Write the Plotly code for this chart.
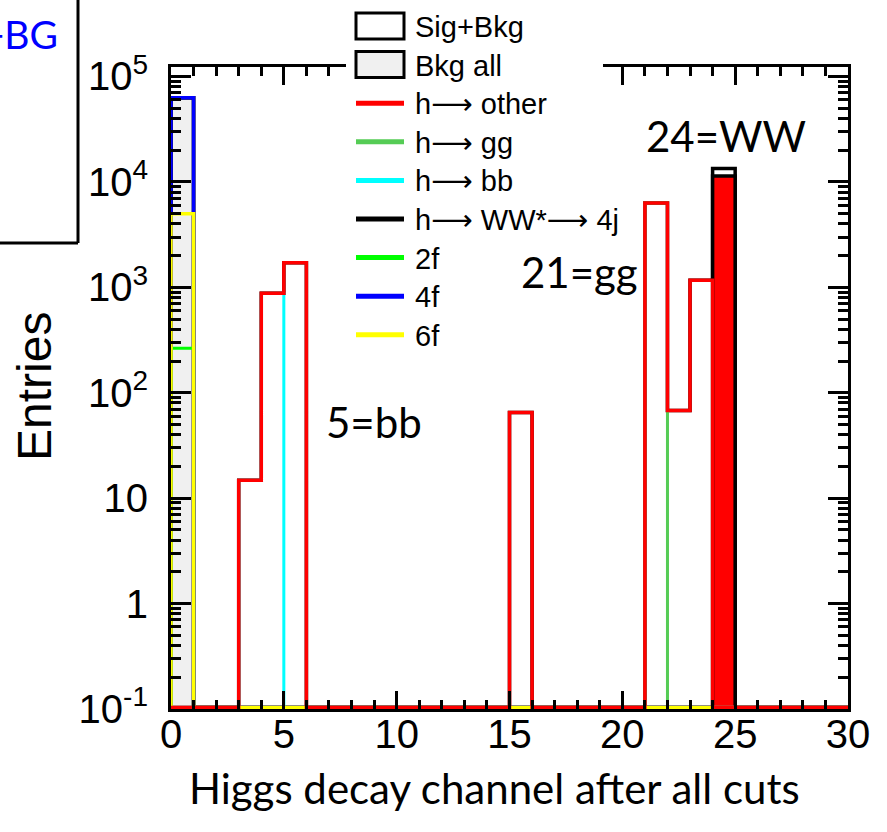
import numpy as np
import plotly.graph_objects as go

# ---------------- data ----------------
bin_edges = list(range(31))  # Higgs decay channel bins 0..30

bkg_2f = [265] + [0] * 29
bkg_6f = [4735] + [0] * 29
bkg_4f = [58000] + [0] * 29
bkg_all = [63000] + [0] * 29

#            0  1  2    3    4     5  6  7  8  9 10 11 12 13 14  15 16 17 18 19 20    21  22    23 24 25 26 27 28 29
h_other = [0, 0, 0, 14.8, 880, 1715, 0, 0, 0, 0, 0, 0, 0, 0, 0, 65, 0, 0, 0, 0, 0, 6300, 68, 1165, 0, 0, 0, 0, 0, 0]
h_gg    = [0, 0, 0, 0, 0, 0, 0, 0, 0, 0, 0, 0, 0, 0, 0, 0, 0, 0, 0, 0, 0, 6300, 0, 0, 0, 0, 0, 0, 0, 0]
h_bb    = [0, 0, 0, 14.8, 875, 0, 0, 0, 0, 0, 0, 0, 0, 0, 0, 0, 0, 0, 0, 0, 0, 0, 0, 0, 0, 0, 0, 0, 0, 0]
h_ww    = [0, 0, 0, 0, 0, 0, 0, 0, 0, 0, 0, 0, 0, 0, 0, 0, 0, 0, 0, 0, 0, 0, 0, 0, 11400, 0, 0, 0, 0, 0]
sig_bkg = [63000, 0, 0, 14.8, 880, 1715, 0, 0, 0, 0, 0, 0, 0, 0, 0, 65, 0, 0, 0, 0, 0, 6300, 68, 1165, 13400, 0, 0, 0, 0, 0]

x_ticks = [0, 5, 10, 15, 20, 25, 30]
y_tickvals = [0.1, 1, 10, 100, 1e3, 1e4, 1e5]
y_ticktext = ["10<sup>-1</sup>", "1", "10", "10<sup>2</sup>", "10<sup>3</sup>", "10<sup>4</sup>", "10<sup>5</sup>"]

ARROW = "<span style='font-family:DejaVu Sans'>\u27f6</span>"
legend_names = ["Sig+Bkg", "Bkg all", "h" + ARROW + " other", "h" + ARROW + " gg", "h" + ARROW + " bb",
                "h" + ARROW + " WW*" + ARROW + " 4j", "2f", "4f", "6f"]

# ---------------- layout constants ----------------
W, H = 887, 832
L, R, T, B = 171, 848, 67, 709
Y_RANGE = [-1.0, 5.09]
floor = 10 ** (Y_RANGE[0] + 0.014)

def px(x):
    return (x - L) / (R - L)

def py(y):
    return (B - y) / (B - T)

edges = np.array(bin_edges, dtype=float)

def step(vals):
    v = np.asarray(vals, dtype=float)
    v = np.where(v > 0, v, floor)
    xs = np.concatenate([[edges[0]], edges[:-1], [edges[-1], edges[-1]]])
    ys = np.concatenate([[floor], v, [v[-1], floor]])
    return xs, ys

stack_2f = np.array(bkg_2f, dtype=float)
stack_6f = stack_2f + np.array(bkg_6f, dtype=float)
stack_4f = stack_6f + np.array(bkg_4f, dtype=float)

fig = go.Figure()

def add_step(vals, name, color, width=3.5, fill=None, fillcolor=None):
    xs, ys = step(vals)
    fig.add_trace(go.Scatter(
        x=xs, y=ys, mode="lines", line=dict(color=color, width=width, shape="hv"),
        fill=fill, fillcolor=fillcolor, name=name, showlegend=False, hoverinfo="skip"))

add_step(bkg_all, "Bkg all", "black", 3.5, "toself", "#f0f0f0")
add_step(sig_bkg, "Sig+Bkg", "black", 3.5)
add_step(h_ww, "h->WW*->4j", "black", 3.5, "toself", "#ff0000")
add_step(stack_4f, "4f", "#0000ff", 3.5)
add_step(stack_2f, "2f", "#00ff00", 3.0)
add_step(h_gg, "h->gg", "#55cc55", 3.0)
add_step(h_bb, "h->bb", "#00ffff", 3.0)
add_step(stack_6f, "6f", "#ffff00", 3.5)
add_step(h_other, "h->other", "#ff0000", 3.5)

# ---------------- axes ----------------
tick_font = dict(family="Liberation Sans, Arial, sans-serif", size=40, color="black")
minor_y = [m * 10.0 ** d for d in range(-1, 5) for m in range(2, 10)]

fig.update_xaxes(
    range=[0, 30], tickvals=x_ticks, ticks="inside", ticklen=18, tickwidth=3,
    tickcolor="black", showline=True, linewidth=3, linecolor="black", mirror="ticks",
    showgrid=False, zeroline=False, tickfont=tick_font, ticklabelstandoff=-12,
    minor=dict(dtick=1, tick0=0, ticks="inside", ticklen=9, tickwidth=3, tickcolor="black", showgrid=False),
)
fig.update_yaxes(
    type="log", range=Y_RANGE, tickvals=y_tickvals, ticktext=y_ticktext,
    ticks="inside", ticklen=20, tickwidth=3, tickcolor="black",
    showline=True, linewidth=3, linecolor="black", mirror="ticks",
    showgrid=False, zeroline=False, tickfont=tick_font, ticklabelstandoff=12,
    minor=dict(tickmode="array", tickvals=minor_y, ticks="inside", ticklen=10, tickwidth=3,
               tickcolor="black", showgrid=False),
)

# ---------------- legend (drawn by hand, ROOT style) ----------------
shapes = [dict(type="rect", xref="paper", yref="paper", x0=px(346), x1=px(603), y0=py(352), y1=py(-5),
               line=dict(width=0), fillcolor="white", layer="above")]
annotations = []
line_colors = [None, None, "#ff0000", "#55cc55", "#00ffff", "black", "#00ff00", "#0000ff", "#ffff00"]
box_fills = ["white", "#f0f0f0"]
for i, name in enumerate(legend_names):
    cy = 26 + i * 38.6
    if i < 2:
        shapes.append(dict(type="rect", xref="paper", yref="paper",
                           x0=px(356), x1=px(404), y0=py(cy - 13), y1=py(cy + 13),
                           line=dict(color="black", width=3), fillcolor=box_fills[i], layer="above"))
    else:
        shapes.append(dict(type="line", xref="paper", yref="paper",
                           x0=px(356), x1=px(404), y0=py(cy), y1=py(cy),
                           line=dict(color=line_colors[i], width=5), layer="above"))
    annotations.append(dict(text=name, xref="paper", yref="paper", x=px(413), y=py(cy + 1),
                            xanchor="left", yanchor="middle", showarrow=False,
                            font=dict(family="Liberation Sans, Arial, sans-serif", size=29, color="black")))

# top-left partial box
shapes.append(dict(type="line", xref="paper", yref="paper", x0=px(78), x1=px(78), y0=py(-5), y1=py(243),
                   line=dict(color="black", width=3)))
shapes.append(dict(type="line", xref="paper", yref="paper", x0=px(-5), x1=px(78), y0=py(243), y1=py(243),
                   line=dict(color="black", width=3)))

calibri = "Lato, Carlito, Calibri, sans-serif"
annotations += [
    dict(text="Sig+BG", xref="paper", yref="paper", x=px(60), y=py(34), xanchor="right", yanchor="middle",
         showarrow=False, font=dict(family=calibri, size=39, color="#0000ff")),
    dict(text="5=bb", xref="paper", yref="paper", x=px(374), y=py(422), xanchor="center", yanchor="middle",
         showarrow=False, font=dict(family=calibri, size=42, color="black")),
    dict(text="21=gg", xref="paper", yref="paper", x=px(579), y=py(272), xanchor="center", yanchor="middle",
         showarrow=False, font=dict(family=calibri, size=42, color="black")),
    dict(text="24=WW", xref="paper", yref="paper", x=px(726), y=py(136), xanchor="center", yanchor="middle",
         showarrow=False, font=dict(family=calibri, size=42, color="black")),
    dict(text="Higgs decay channel after all cuts", xref="paper", yref="paper", x=px(494), y=py(788),
         xanchor="center", yanchor="middle", showarrow=False, font=dict(family=calibri, size=42, color="black")),
    dict(text="Entries", xref="paper", yref="paper", x=px(34), y=py(387), xanchor="center", yanchor="middle",
         textangle=-90, showarrow=False,
         font=dict(family="Liberation Sans, Arial, sans-serif", size=48, color="black")),
]

fig.update_layout(
    width=W, height=H, margin=dict(l=L, r=W - R, t=T, b=H - B),
    plot_bgcolor="white", paper_bgcolor="white", showlegend=False,
    shapes=shapes, annotations=annotations,
)

fig.write_html("out.html")
